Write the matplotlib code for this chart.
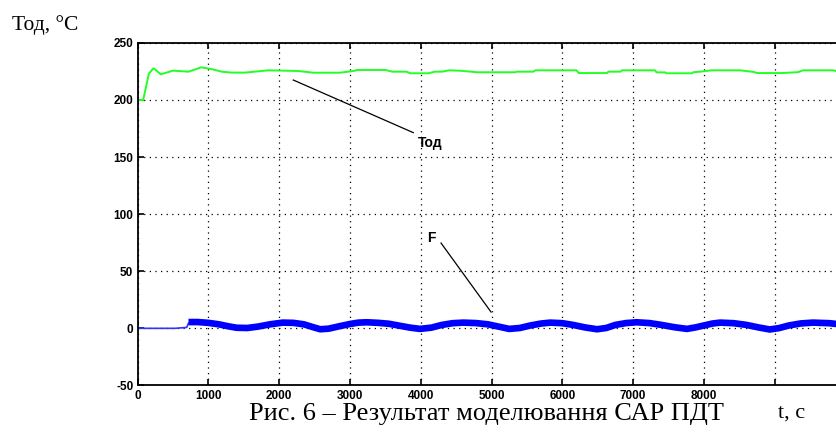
import matplotlib
matplotlib.use("Agg")
import matplotlib.pyplot as plt

# ---- data ----
tod_t = [0, 80, 160, 225, 330, 500, 720, 900, 1050, 1190, 1330, 1520, 1850, 2270, 2480,
         2860, 3050, 3100, 3500, 3600, 3800, 3850, 4110, 4200, 4300, 4400, 4560, 4800,
         5330, 5360, 5590, 5620, 6200, 6230, 6630, 6650, 6820, 6840, 7310, 7330, 7450,
         7470, 7830, 7850, 7950, 8110, 8510, 8700, 8750, 9100, 9330, 9400, 9830, 9900, 10000]
tod_v = [200, 200, 223, 227.8, 222.5, 225.7, 224.8, 228.6, 227, 224.8, 224, 224, 226, 225.4, 223.9,
         223.9, 225.4, 226.3, 226.3, 224.8, 224.8, 223.4, 223.4, 224.8, 224.8, 226, 225.6, 224.3,
         224.3, 224.8, 224.8, 226, 226, 223.6, 223.6, 224.8, 224.8, 226, 226, 224.2, 224.2,
         223.4, 223.4, 224.3, 224.8, 226, 226, 224.6, 223.6, 223.6, 224.4, 226, 226, 224.6, 224.6]

f_start_t = [0, 530, 695, 720]
f_start_v = [0, 0, 0.8, 4.5]

f_t = [720, 850, 1000, 1150, 1280, 1400, 1550, 1700, 1870, 2050, 2200, 2350, 2470, 2580,
       2700, 2850, 3000, 3120, 3240, 3400, 3550, 3700, 3850, 3990, 4150, 4300, 4450, 4600,
       4780, 4950, 5100, 5250, 5400, 5550, 5700, 5830, 6000, 6150, 6320, 6490, 6620, 6750,
       6900, 7050, 7230, 7400, 7580, 7760, 7880, 8000, 8120, 8230, 8420, 8600, 8770, 8930,
       9060, 9200, 9370, 9540, 9770, 10000]
f_v = [5.5, 5.5, 4.8, 3.5, 1.8, 0.5, 0.3, 1.5, 3.5, 5, 4.8, 3.5, 1.2, -0.8,
       -0.3, 1.8, 3.8, 5, 5.3, 4.8, 4, 2.3, 0.6, -0.5, 0.6, 3, 4.5, 5,
       4.6, 3.5, 1.5, -0.5, 0.3, 2.5, 4.2, 5, 4.5, 3, 0.8, -0.8, 0.3, 3,
       4.6, 5.3, 4.6, 3, 1, -0.5, 0.8, 2.5, 4.2, 5, 4.5, 3, 0.8, -1,
       0.2, 2.5, 4.3, 5, 4.5, 3]

x_ticks = [0, 1000, 2000, 3000, 4000, 5000, 6000, 7000, 8000, 9000]
x_tick_labels = ["0", "1000", "2000", "3000", "4000", "5000", "6000", "7000", "8000", ""]
y_ticks = [-50, 0, 50, 100, 150, 200, 250]
y_tick_labels = ["-50", "0", "50", "100", "150", "200", "250"]

# annotation anchors (data coords)
tod_label = ("Тод", 3962, 158.8)
tod_arrow = ((2200, 217.5), (3895, 171.4))
f_label = ("F", 4089, 75.6)
f_arrow = ((4287, 74.7), (4993, 14.3))

fig = plt.figure(figsize=(8.37, 4.33), dpi=100)
ax = fig.add_axes([0.1643, 0.1099, 0.8459, 0.791])

ax.plot(tod_t, tod_v, color="#22ff22", lw=1.4)
ax.plot(f_start_t, f_start_v, color="#3333ff", lw=1.2)
ax.plot(f_t, f_v, color="#0000ff", lw=4.8, solid_capstyle="butt", solid_joinstyle="round")

ax.set_xlim(0, 10000)
ax.set_ylim(-50, 250)
ax.set_xticks(x_ticks)
ax.set_xticklabels(x_tick_labels)
ax.set_yticks(y_ticks)
ax.set_yticklabels(y_tick_labels)

ax.grid(True, color="black", linestyle=(0, (1, 3.5)), linewidth=0.9)
ax.tick_params(direction="in", top=True, right=True, length=4, width=1.2,
               labelsize=8.5, pad=3)
for lab in ax.get_xticklabels() + ax.get_yticklabels():
    lab.set_fontfamily("Liberation Sans")
    lab.set_fontweight("bold")
for sp in ax.spines.values():
    sp.set_linewidth(1.3)

# annotations
ax.plot([tod_arrow[0][0], tod_arrow[1][0]], [tod_arrow[0][1], tod_arrow[1][1]],
        color="black", lw=0.9)
ax.plot([f_arrow[0][0], f_arrow[1][0]], [f_arrow[0][1], f_arrow[1][1]],
        color="black", lw=0.9)
ax.text(tod_label[1], tod_label[2], tod_label[0], fontsize=10, fontweight="bold",
        family="Liberation Sans", va="baseline", ha="left")
ax.text(f_label[1], f_label[2], f_label[0], fontsize=10, fontweight="bold",
        family="Liberation Sans", va="baseline", ha="left")

# figure texts
fig.text(12 / 837, 0.9307, "Тод, °C", family="Liberation Serif", fontsize=15.5,
         va="baseline", ha="left")
fig.text(487 / 837, (433 - 420) / 433, "Рис. 6 – Результат моделювання САР ПДТ",
         family="Liberation Serif", fontsize=19, va="baseline", ha="center")
fig.text(778 / 837, (433 - 418) / 433, "t, c", family="Liberation Serif", fontsize=16,
         va="baseline", ha="left")

fig.savefig("out.png", dpi=100)
